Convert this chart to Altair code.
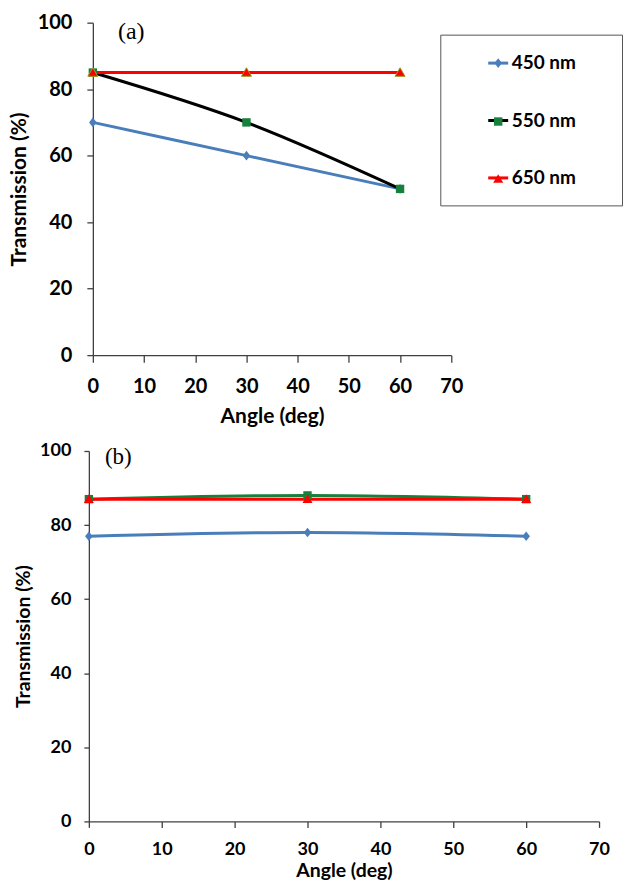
import altair as alt
import pandas as pd

# ---------------- data ----------------
angles = [0, 30, 60]
series_names = ["450 nm", "550 nm", "650 nm"]

a_450 = [70, 60, 50]
a_550 = [85, 70, 50]
a_650 = [85, 85, 85]

b_450 = [77, 78, 77]
b_550 = [87, 88, 87]
b_650 = [87, 87, 87]

x_ticks = [0, 10, 20, 30, 40, 50, 60, 70]
y_ticks = [0, 10, 20, 30, 40, 50, 60, 70, 80, 90, 100]
panel_tags = ["(a)", "(b)"]


def frame(values):
    rows = []
    for name, ys in zip(series_names, values):
        for ang, v in zip(angles, ys):
            rows.append({"angle": ang, "value": v, "series": name, "label": name})
    return pd.DataFrame(rows)


df_a = frame([a_450, a_550, a_650])
df_b = frame([b_450, b_550, b_650])

# ---------------- style ----------------
FONT = "Lato"
SERIF = "Liberation Serif"
AX = "#404040"
BLUE = "#4a7ebb"
GREEN = "#17803d"
RED = "#ff0000"
BLACK = "#000000"
OLIVE = "#9a9a2a"

DIAMOND = "M0,-0.48L0.38,0L0,0.48L-0.38,0Z"
SQUARE = "M-0.42,-0.42H0.42V0.42H-0.42Z"
TRIANGLE = "M0,-0.48L0.5,0.38H-0.5Z"


def x_axis(lab, tit, lab_pad, tit_pad, tick):
    return alt.Axis(values=x_ticks, format="d", title="Angle (deg)", grid=False,
                    labelFont=FONT, labelFontWeight="bold", labelFontSize=lab,
                    labelColor="black", labelPadding=lab_pad, labelFlush=False,
                    tickSize=tick, tickColor=AX, tickWidth=1.3,
                    domainColor=AX, domainWidth=1.3,
                    titleFont=FONT, titleFontWeight="bold", titleFontSize=tit,
                    titleColor="black", titlePadding=tit_pad)


def y_axis(lab, tit, lab_pad, tit_pad, tick, offset=0):
    return alt.Axis(values=y_ticks, title="Transmission (%)", grid=False,
                    labelExpr="datum.value % 20 === 0 ? datum.label : ''",
                    labelFont=FONT, labelFontWeight="bold", labelFontSize=lab,
                    labelColor="black", labelPadding=lab_pad,
                    tickSize=tick, tickColor=AX, tickWidth=1.3,
                    domainColor=AX, domainWidth=1.3, offset=offset,
                    titleFont=FONT, titleFontWeight="bold", titleFontSize=tit,
                    titleColor="black", titlePadding=tit_pad)


# ---------------- panel (a) ----------------
xa = alt.X("angle:Q", scale=alt.Scale(domain=[0, 70], range=[4, 363], nice=False),
           axis=x_axis(20, 21, 14, 9, 7))
ya = alt.Y("value:Q", scale=alt.Scale(domain=[0, 100], nice=False),
           axis=y_axis(20, 21, 15, 7.5, 6, offset=-4))

legend_common = dict(orient="none", legendX=352, legendY=12,
                     symbolSize=400, symbolStrokeWidth=3, padding=17,
                     symbolOffset=29.5, labelOffset=2, rowPadding=35.5,
                     labelFont=FONT, labelFontWeight="bold", labelFontSize=19,
                     labelLimit=0)

lines_a = alt.Chart(df_a).mark_line(strokeWidth=3, interpolate="monotone").encode(
    x=xa, y=ya,
    stroke=alt.Stroke("series:N",
                      scale=alt.Scale(domain=series_names, range=[BLUE, BLACK, RED]),
                      legend=alt.Legend(symbolType="stroke", labelColor="black",
                                        strokeColor="#555555", fillColor="white",
                                        title="MMMMMMMM", titleOrient="right",
                                        titleColor="transparent", titleFontSize=12,
                                        titleLimit=29, titlePadding=7,
                                        **legend_common)),
)

points_a = alt.Chart(df_a).mark_point(filled=True, size=400, opacity=1).encode(
    x=xa, y=ya,
    fill=alt.Fill("label:N", scale=alt.Scale(range=[BLUE, GREEN, RED]),
                  legend=alt.Legend(labelOpacity=0, symbolStrokeColor="transparent",
                                    title=None, **legend_common)),
    shape=alt.Shape("label:N", scale=alt.Scale(range=[DIAMOND, SQUARE, TRIANGLE]),
                    legend=alt.Legend(labelOpacity=0, symbolStrokeColor="transparent",
                                      title=None, **legend_common)),
)

outline_a = alt.Chart(df_a).transform_filter(alt.datum.label == "650 nm").mark_point(
    filled=False, size=400, shape=TRIANGLE, stroke=OLIVE, strokeWidth=1, opacity=1
).encode(x=xa, y=ya)

tag_a = alt.Chart(pd.DataFrame({"tag": panel_tags[:1]})).mark_text(
    font=SERIF, fontSize=24, align="left", baseline="alphabetic", color="black"
).encode(x=alt.datum(4.9), y=alt.datum(95.2), text="tag:N")

panel_a = alt.layer(lines_a, points_a, outline_a, tag_a).properties(width=363, height=333)

# ---------------- panel (b) ----------------
xb = alt.X("angle:Q", scale=alt.Scale(domain=[0, 70], nice=False),
           axis=x_axis(18, 19.5, 13.5, 3, 6))
yb = alt.Y("value:Q", scale=alt.Scale(domain=[0, 100], nice=False),
           axis=y_axis(18, 19.5, 13, 6, 5))

lines_b = alt.Chart(df_b).mark_line(strokeWidth=3, interpolate="monotone").encode(
    x=xb, y=yb,
    stroke=alt.Stroke("series:N",
                      scale=alt.Scale(domain=series_names, range=[BLUE, GREEN, RED]),
                      legend=None),
)
points_b = alt.Chart(df_b).mark_point(filled=True, size=400, opacity=1).encode(
    x=xb, y=yb,
    fill=alt.Fill("label:N", scale=alt.Scale(range=[BLUE, GREEN, RED]), legend=None),
    shape=alt.Shape("label:N", scale=alt.Scale(range=[DIAMOND, SQUARE, TRIANGLE]),
                    legend=None),
)
tag_b = alt.Chart(pd.DataFrame({"tag": panel_tags[1:]})).mark_text(
    font=SERIF, fontSize=23, align="left", baseline="alphabetic", color="black"
).encode(x=alt.datum(2.2), y=alt.datum(96.5), text="tag:N")

panel_b = alt.layer(lines_b, points_b, tag_b).properties(width=511, height=371)

chart = alt.vconcat(panel_a, panel_b, spacing=16).resolve_scale(
    stroke="independent", fill="independent", shape="independent"
).configure(
    padding={"left": 8, "top": 12, "right": 0, "bottom": 0},
    background="white",
).configure_view(stroke=None)

chart.save("out.html", embed_options={"renderer": "svg", "actions": False})
